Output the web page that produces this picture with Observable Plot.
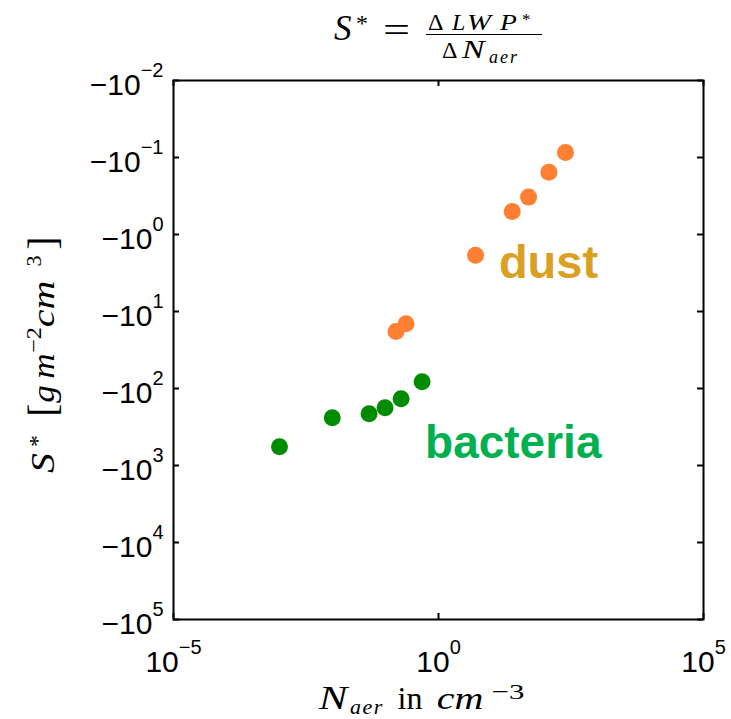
<!DOCTYPE html>
<html><head><meta charset="utf-8">
<script src="https://cdn.jsdelivr.net/npm/d3@7"></script>
<script src="https://cdn.jsdelivr.net/npm/@observablehq/plot@0.6"></script>
<style>
body{margin:0;background:#fff;}
#title{position:relative;height:66px;width:731px;font-family:"Liberation Serif","Times New Roman",serif;color:#000;}
#title span{position:absolute;white-space:pre;display:block;}
#title .bar{position:absolute;background:#000;}
</style></head><body>
<div id="title"></div>
<div id="chart"></div>
<script>
// bacteria: aerosol number concentration (cm^-3) and S* values
const bacteriaN = [0.001, 0.0099, 0.049, 0.098, 0.197, 0.49];
const bacteriaS = [-571, -240, -213, -178, -136, -81.6];
// dust
const dustN = [0.158, 0.244, 5.0, 24.6, 50, 121, 249];
const dustS = [-18.2, -14.4, -1.86, -0.502, -0.327, -0.155, -0.0859];
// tick values (x) and magnitudes of S* (y axis shows −10^k)
const xTicks = [1e-5, 1, 1e5];
const yTicks = [1e-2, 1e-1, 1, 1e1, 1e2, 1e3, 1e4, 1e5];
// annotation labels
const labelText = ["dust", "bacteria"];
const labelN = [13.8, 0.557];
const labelS = [-2.33, -516];

// ---- title (HTML, above the SVG) ----
const title = document.getElementById("title");
function piece(txt, x, baseline, size, italic, extra) {
  const s = document.createElement("span");
  s.textContent = txt;
  s.style.left = x + "px";
  s.style.fontSize = size + "px";
  s.style.lineHeight = size + "px";
  s.style.top = (baseline - 0.8375 * size) + "px";
  if (italic) s.style.fontStyle = "italic";
  if (extra) Object.assign(s.style, extra);
  title.appendChild(s);
}
piece("S", 334, 40, 35, true);
piece("*", 356, 31, 24, false);
piece("=", 383, 42, 35, false, {transform: "scaleX(1.37)", transformOrigin: "left"});
piece("Δ", 428, 30, 24, false);
piece("L", 452, 30, 24, true);
piece("W", 467, 30, 24, true, {transform: "scaleX(1.2)", transformOrigin: "left"});
piece("P", 500, 30, 24, true, {transform: "scaleX(1.15)", transformOrigin: "left"});
piece("*", 522, 25, 17, false);
const bar = document.createElement("div");
bar.className = "bar";
Object.assign(bar.style, {left: "426px", top: "33.5px", width: "116px", height: "1.5px"});
title.appendChild(bar);
piece("Δ", 442, 58, 24, false);
piece("N", 462, 58, 25, true, {transform: "scaleX(1.35)", transformOrigin: "left"});
piece("aer", 489, 63, 18, true, {letterSpacing: "2px"});

// ---- chart ----
const bacteria = bacteriaN.map((n, i) => ({n, s: bacteriaS[i]}));
const dust = dustN.map((n, i) => ({n, s: dustS[i]}));
const labels = labelText.map((t, i) => ({t, n: labelN[i], s: labelS[i]}));

const W = 731, H = 653, mT = 14, mL = 173, mR = 28, mB = 100;
const fw = W - mL - mR, fh = H - mT - mB;
const tl = 6;

const plot = Plot.plot({
  width: W, height: H,
  marginTop: mT, marginLeft: mL, marginRight: mR, marginBottom: mB,
  x: {type: "log", domain: [1e-5, 1e5]},
  y: {type: "log", domain: [1e-2, 1e5], reverse: true},
  style: {fontFamily: "'Liberation Sans', Arial, sans-serif", overflow: "visible", background: "white", color: "black"},
  marks: [
    Plot.tickY(yTicks, {y: d => d, insetRight: fw - tl, stroke: "black", strokeWidth: 2}),
    Plot.tickY(yTicks, {y: d => d, insetLeft: fw - tl, stroke: "black", strokeWidth: 2}),
    Plot.tickX(xTicks, {x: d => d, insetTop: fh - tl, stroke: "black", strokeWidth: 2}),
    Plot.tickX(xTicks, {x: d => d, insetBottom: fh - tl, stroke: "black", strokeWidth: 2}),
    Plot.dot(bacteria, {x: "n", y: d => -d.s, r: 8.5, fill: "#008C00", stroke: "none"}),
    Plot.dot(dust, {x: "n", y: d => -d.s, r: 8.5, fill: "#FF7F33", stroke: "none"}),
    Plot.text(labels.filter(d => d.t === "dust"), {x: "n", y: d => -d.s, text: "t", textAnchor: "start", lineAnchor: "middle", fontSize: 47, fontWeight: "bold", fill: "#DAA023"}),
    Plot.text(labels.filter(d => d.t === "bacteria"), {x: "n", y: d => -d.s, text: "t", textAnchor: "start", lineAnchor: "middle", fontSize: 46, fontWeight: "bold", fill: "#00B050"}),
    Plot.axisX({ticks: xTicks, tickSize: 0, tickPadding: 31, fontSize: 30, label: null,
      tickFormat: d => "10^" + Math.round(Math.log10(d))}),
    Plot.axisY({ticks: yTicks, tickSize: 0, tickPadding: 10, fontSize: 30, label: null, dy: 5,
      tickFormat: d => "−10^" + Math.round(Math.log10(d))}),
    Plot.frame({stroke: "black", strokeWidth: 2})
  ]
});
document.getElementById("chart").appendChild(plot);

const svg = d3.select(plot);
// superscript exponents in tick labels
svg.selectAll('g[aria-label$="tick label"] text').each(function() {
  const s = this.textContent;
  if (!s.includes("^")) return;
  const [base, exp] = s.split("^");
  const t = d3.select(this);
  t.text(null);
  t.append("tspan").text(base);
  t.append("tspan").attr("dy", -18).attr("font-size", 20).text(exp.replace("-", "−"));
});

const serif = "'Liberation Serif','Times New Roman',serif";
const off = 66; // height of the title block above the SVG
const yLab = svg.append("g").attr("aria-label", "y-axis label");
const xLab = svg.append("g").attr("aria-label", "x-axis label");
// y-axis label (rotated, reads bottom to top); pageY = where each piece starts
function ypiece(txt, pageY, raise, size, italic, sx = 1) {
  const t = yLab.append("text")
    .attr("transform", `translate(${54 - raise},${pageY - off}) rotate(-90) scale(${sx},1)`)
    .attr("font-family", serif).attr("font-size", size).attr("fill", "black").text(txt);
  if (italic) t.attr("font-style", "italic");
}
ypiece("S", 463, 0, 33, true, 1.2);
ypiece("*", 441, 9, 24, false);
ypiece("[", 410, -2, 40, false);
ypiece("g", 394, 0, 32, true, 1.1);
ypiece("m", 366, 0, 32, true, 1.1);
ypiece("−2", 340, 13, 22, false, 1.1);
ypiece("cm", 304, 0, 32, true, 1.25);
ypiece("3", 261, 13, 22, false);
ypiece("]", 243, -2, 40, false);

// x-axis label
function xpiece(txt, x, baseline, size, italic, sx = 1, ls = 0) {
  const t = xLab.append("text")
    .attr("transform", `translate(${x},${baseline - off}) scale(${sx},1)`)
    .attr("font-family", serif).attr("font-size", size).attr("fill", "black").text(txt);
  if (italic) t.attr("font-style", "italic");
  if (ls) t.attr("letter-spacing", ls);
}
xpiece("N", 333, 709, 33, true, 1.3);
xpiece("aer", 367, 714, 22, true, 1, 1.5);
xpiece("in", 410, 709, 32, false);
xpiece("cm", 460, 709, 32, true, 1.25);
xpiece("−3", 508, 699, 22, false, 1.4);
</script>
</body></html>
